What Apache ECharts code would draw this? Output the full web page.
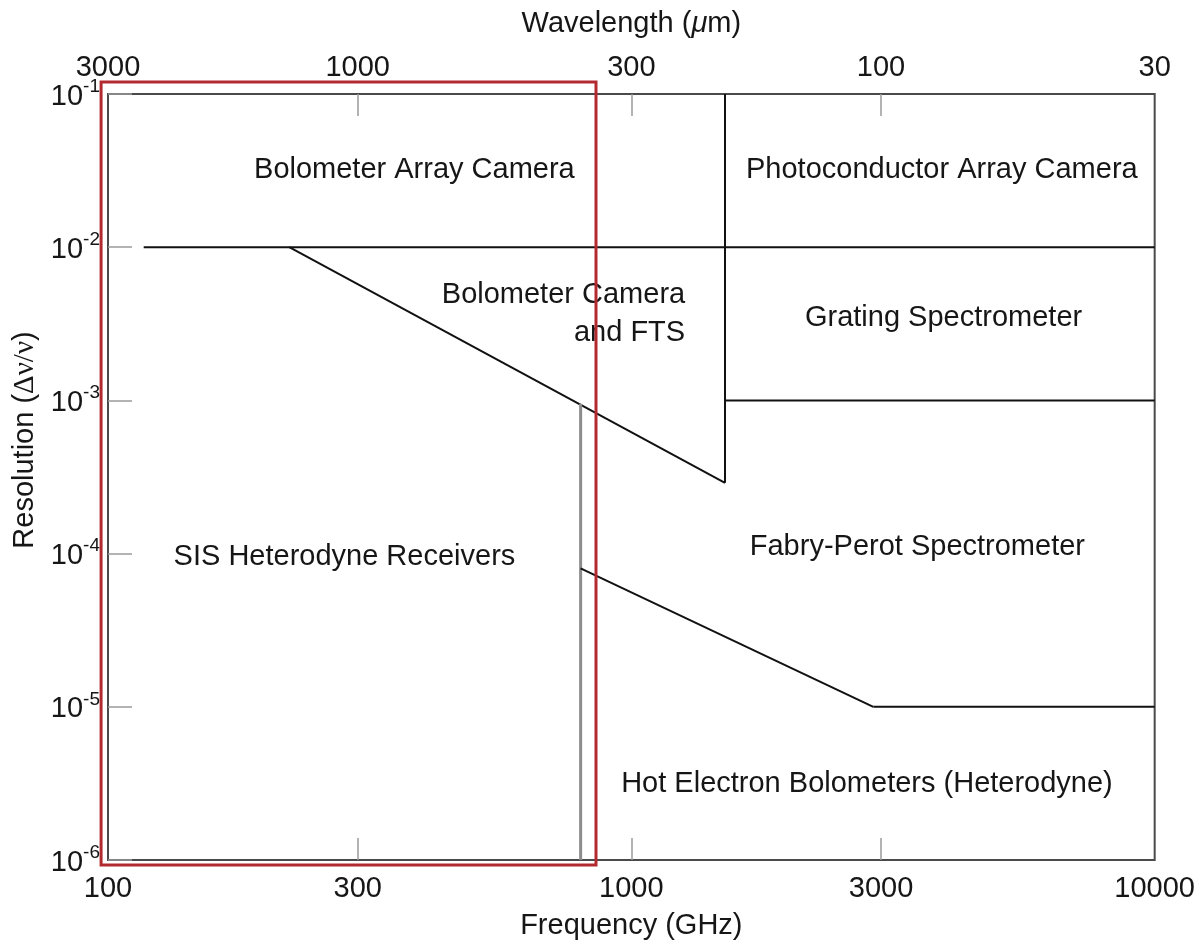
<!DOCTYPE html>
<html><head><meta charset="utf-8">
<script src="https://cdn.jsdelivr.net/npm/echarts@6/dist/echarts.min.js"></script>
<style>html,body{margin:0;padding:0;background:#fff}#c{width:1198px;height:945px}</style>
</head><body><div id="c"></div>
<script>
// ---- data ----
const C_UM_GHZ = 3e5; // wavelength(um) = C / frequency(GHz), as drawn in the figure
const freqTickLabels = [100, 300, 1000, 3000, 10000];
const freqInnerTicks = [300, 1000, 3000];
const wavelengthTickLabels = [3000, 1000, 300, 100, 30];
const wavelengthInnerTicks = [1000, 300, 100];
const freqMin = 100, freqMax = 10000;
const resMin = 1e-6, resMax = 1e-1;

// boundary lines [frequency GHz, resolution]
const lineContinuum = [[117, 1e-2], [10000, 1e-2]];
const lineBoloFTS = [[222, 1e-2], [1510, 2.9e-4]];
const lineBoloVert = [[1510, 1e-1], [1510, 2.9e-4]];
const lineGrating = [[1510, 1e-3], [10000, 1e-3]];
const lineSIS = [[800, 9.5e-4], [800, 1e-6]];
const lineHEB = [[800, 8e-5], [2900, 1e-5]];
const lineFabry = [[2900, 1e-5], [10000, 1e-5]];

// highlight box corners (frequency GHz, resolution)
const highlightFreq = [97, 856];
const highlightRes = [9.28e-7, 0.1197];

// region labels
const regionNames = ['Bolometer Array Camera', 'Photoconductor Array Camera', 'Bolometer Camera\nand FTS',
  'Grating Spectrometer', 'SIS Heterodyne Receivers', 'Fabry-Perot Spectrometer', 'Hot Electron Bolometers (Heterodyne)'];
const regionFreq = [385, 3920, 1270, 3950, 283, 3520, 2820];
const regionRes = [3.2e-2, 3.2e-2, 3.68e-3, 3.47e-3, 9.44e-5, 1.11e-4, 3.13e-6];
const regionAlign = ['center', 'center', 'right', 'center', 'center', 'center', 'center'];

// ---- chart ----
const FONT = '"Liberation Sans", Arial, Helvetica, sans-serif';
const TXT = '#161616';
const chart = echarts.init(document.getElementById('c'), null, {renderer: 'canvas'});

function lineSeries(data, color, width) {
  return {
    type: 'line', xAxisIndex: 0, yAxisIndex: 0, data: data, symbol: 'none', silent: true,
    lineStyle: {color: color, width: width}, z: 3, animation: false
  };
}

const labelData = regionNames.map((n, i) => {
  const item = {value: [regionFreq[i], regionRes[i]], name: n};
  if (regionAlign[i] === 'right') {
    item.label = {position: 'left', distance: 0, align: 'right'};
  }
  return item;
});

const option = {
  animation: false,
  backgroundColor: '#fff',
  grid: {left: 108, right: 39, top: 94, bottom: 84, show: true, borderColor: '#4a4a4a', borderWidth: 2,
    backgroundColor: 'transparent'},
  xAxis: [
    {type: 'log', logBase: 10, min: freqMin, max: freqMax, show: false, position: 'bottom'},
    {type: 'value', min: Math.log10(freqMin), max: Math.log10(freqMax), position: 'bottom',
      axisLine: {show: false}, splitLine: {show: false},
      axisTick: {inside: true, length: 22, lineStyle: {color: '#9a9a9a', width: 1.5},
        customValues: freqInnerTicks.map(v => Math.log10(v))},
      axisLabel: {customValues: freqTickLabels.map(v => Math.log10(v)), margin: 14,
        formatter: v => String(Math.round(Math.pow(10, v))),
        fontFamily: FONT, fontSize: 29, color: TXT},
      name: 'Frequency (GHz)', nameLocation: 'middle', nameGap: 51,
      nameTextStyle: {fontFamily: FONT, fontSize: 29, color: TXT}},
    {type: 'value', min: Math.log10(freqMin), max: Math.log10(freqMax), position: 'top',
      axisLine: {show: false}, splitLine: {show: false},
      axisTick: {inside: true, length: 22, lineStyle: {color: '#9a9a9a', width: 1.5},
        customValues: wavelengthInnerTicks.map(l => Math.log10(C_UM_GHZ / l))},
      axisLabel: {customValues: wavelengthTickLabels.map(l => Math.log10(C_UM_GHZ / l)), margin: 12,
        formatter: v => String(Math.round(C_UM_GHZ / Math.pow(10, v))),
        fontFamily: FONT, fontSize: 29, color: TXT},
      name: '{a|Wavelength (}{i|μ}{a|m)}', nameLocation: 'middle', nameGap: 56,
      nameTextStyle: {rich: {
        a: {fontFamily: FONT, fontSize: 29, color: TXT},
        i: {fontFamily: FONT, fontSize: 29, color: TXT, fontStyle: 'italic'}}}}
  ],
  yAxis: [
    {type: 'log', logBase: 10, min: resMin, max: resMax, position: 'left',
      axisLine: {show: false}, splitLine: {show: false},
      axisTick: {inside: true, length: 24, lineStyle: {color: '#9a9a9a', width: 1.5}},
      axisLabel: {margin: 8,
        formatter: v => '{b|10}{s|' + Math.round(Math.log10(v)) + '}',
        rich: {
          b: {fontFamily: FONT, fontSize: 29, color: TXT, lineHeight: 34, verticalAlign: 'bottom'},
          s: {fontFamily: FONT, fontSize: 19, color: TXT, lineHeight: 20, verticalAlign: 'top'}
        }},
      name: '{a|Resolution (}{g|Δν/ν}{a|)}', nameLocation: 'middle', nameGap: 48, nameRotate: 90,
      nameTextStyle: {padding: [0, 0, 0, 74], rich: {
        a: {fontFamily: FONT, fontSize: 29, color: TXT},
        g: {fontFamily: '"Liberation Serif", "DejaVu Serif", serif', fontSize: 29, color: TXT}}}}
  ],
  series: [
    lineSeries(lineContinuum, '#111', 2),
    lineSeries(lineBoloFTS, '#111', 2),
    lineSeries(lineBoloVert, '#111', 2),
    lineSeries(lineGrating, '#111', 2),
    lineSeries(lineSIS, '#8c8c8c', 3),
    lineSeries(lineHEB, '#111', 2),
    lineSeries(lineFabry, '#111', 2),
    {type: 'scatter', xAxisIndex: 0, yAxisIndex: 0, data: labelData, symbolSize: 1, silent: true,
      itemStyle: {color: 'rgba(0,0,0,0)', opacity: 1}, z: 4,
      label: {show: true, position: 'inside', formatter: p => p.name, opacity: 1,
        fontFamily: FONT, fontSize: 29, color: TXT, lineHeight: 38}}
  ]
};
chart.setOption(option);

// highlight box: extends past the plot edge, so place it from its data values via the axes
const finder = {xAxisIndex: 1, yAxisIndex: 0};
const pTL = chart.convertToPixel(finder, [Math.log10(highlightFreq[0]), highlightRes[1]]);
const pBR = chart.convertToPixel(finder, [Math.log10(highlightFreq[1]), highlightRes[0]]);
chart.setOption({
  graphic: [{
    type: 'rect', silent: true, z: 100,
    shape: {x: pTL[0], y: pTL[1], width: pBR[0] - pTL[0], height: pBR[1] - pTL[1]},
    style: {fill: null, stroke: '#b22a2f', lineWidth: 3}
  }]
});
</script>
</body></html>
